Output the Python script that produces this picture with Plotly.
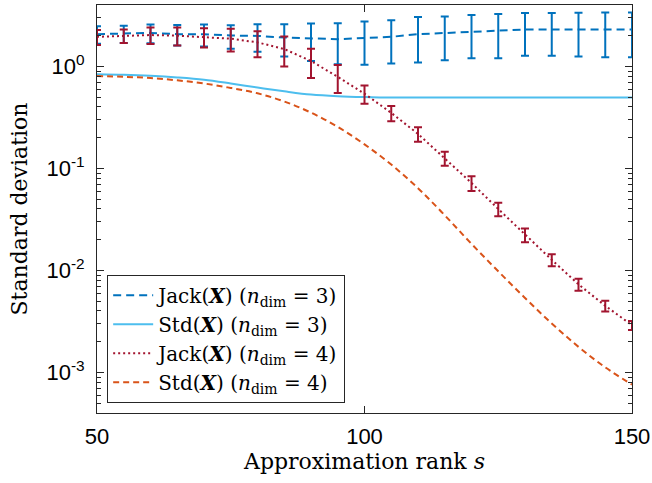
import plotly.graph_objects as go

# approximation rank
s_vals = [50, 55, 60, 65, 70, 75, 80, 85, 90, 95, 100,
          105, 110, 115, 120, 125, 130, 135, 140, 145, 150]

# Jack(X), n_dim = 3
jack3 = [2.07, 2.10, 2.13, 2.07, 2.07, 2.01, 1.99, 1.92, 1.88, 1.85, 1.90,
         1.95, 2.07, 2.12, 2.20, 2.23, 2.30, 2.30, 2.30, 2.30, 2.30]
jack3_err = [0.40, 0.40, 0.44, 0.47, 0.50, 0.52, 0.60, 0.67, 0.75, 0.80, 0.86,
             0.88, 0.98, 0.97, 1.00, 1.03, 1.03, 1.03, 1.05, 1.07, 1.07]

# Std(X), n_dim = 3
std3 = [0.84, 0.83, 0.81, 0.78, 0.74, 0.68, 0.62, 0.57, 0.53, 0.51, 0.50,
        0.495, 0.495, 0.495, 0.495, 0.495, 0.495, 0.495, 0.495, 0.495, 0.495]

# Jack(X), n_dim = 4
jack4 = [1.95, 2.00, 2.03, 2.00, 1.95, 1.87, 1.72, 1.48, 1.13, 0.79, 0.54,
         0.35, 0.218, 0.126, 0.072, 0.040, 0.0223, 0.0127, 0.0073, 0.0045, 0.0029]
jack4_err = [0.33, 0.30, 0.37, 0.40, 0.42, 0.47, 0.49, 0.48, 0.36, 0.24, 0.11,
             0.06, 0.035, 0.020, 0.012, 0.006, 0.0034, 0.0017, 0.0010, 0.00055, 0.0003]

# Std(X), n_dim = 4
std4 = [0.805, 0.79, 0.77, 0.73, 0.68, 0.615, 0.545, 0.453, 0.352, 0.255, 0.172,
        0.109, 0.064, 0.0347, 0.0182, 0.0098, 0.00537, 0.00302, 0.00178, 0.00112, 0.00076]

y_tickvals = [1e-3, 1e-2, 1e-1, 1e0]
y_ticktext = ["10<sup>-3</sup>", "10<sup>-2</sup>", "10<sup>-1</sup>", "10<sup>0</sup>"]
y_minor_tickvals = [k * 10.0 ** e for e in range(-4, 1) for k in range(2, 10)]
x_tickvals = [50, 100, 150]

names = [
    "Jack(<b><i>X</i></b>) (<i>n</i><sub>dim</sub> = 3)",
    "Std(<b><i>X</i></b>) (<i>n</i><sub>dim</sub> = 3)",
    "Jack(<b><i>X</i></b>) (<i>n</i><sub>dim</sub> = 4)",
    "Std(<b><i>X</i></b>) (<i>n</i><sub>dim</sub> = 4)",
]

c_blue = "#0072BD"
c_lblue = "#4DBEEE"
c_red = "#A2142F"
c_orange = "#D95319"

fig = go.Figure()
fig.add_trace(go.Scatter(
    x=s_vals, y=jack3, mode="lines", name=names[0],
    line=dict(color=c_blue, width=2, dash="8px,5px"),
    error_y=dict(type="data", array=jack3_err, symmetric=True,
                 color=c_blue, thickness=2, width=4)))
fig.add_trace(go.Scatter(
    x=s_vals, y=std3, mode="lines", name=names[1], line_shape="spline",
    line=dict(color=c_lblue, width=2)))
fig.add_trace(go.Scatter(
    x=s_vals, y=jack4, mode="lines", name=names[2],
    line=dict(color=c_red, width=2, dash="2px,3px"),
    error_y=dict(type="data", array=jack4_err, symmetric=True,
                 color=c_red, thickness=2, width=4)))
fig.add_trace(go.Scatter(
    x=s_vals, y=std4, mode="lines", name=names[3], line_shape="spline",
    line=dict(color=c_orange, width=2, dash="6px,4px")))

axis_color = "#262626"
serif = "DejaVu Serif"
sans = "Liberation Sans"
fig.update_layout(
    width=652, height=483,
    margin=dict(l=97, r=20, t=5, b=70, autoexpand=False),
    paper_bgcolor="white", plot_bgcolor="white",
    showlegend=True,
    legend=dict(
        x=0.019, y=0.025, xanchor="left", yanchor="bottom",
        bgcolor="white", bordercolor=axis_color, borderwidth=1,
        font=dict(family=serif, size=20, color="black"),
        tracegroupgap=0, itemwidth=40,
    ),
    xaxis=dict(
        range=[50, 150], tickvals=x_tickvals, automargin=False,
        ticks="inside", ticklen=7, tickcolor=axis_color,
        showline=True, linecolor=axis_color, linewidth=1, mirror="ticks",
        showgrid=False, zeroline=False, ticklabelstandoff=4,
        tickfont=dict(family=sans, size=22, color="black"),
        title=dict(text="Approximation rank <i>s</i>",
                   font=dict(family=serif, size=22, color="black"),
                   standoff=2),
    ),
    yaxis=dict(
        type="log", range=[-3.398, 0.602], automargin=False,
        tickvals=y_tickvals, ticktext=y_ticktext,
        ticks="inside", ticklen=7, tickcolor=axis_color,
        minor=dict(ticks="inside", ticklen=4, tickcolor=axis_color,
                   tickmode="array", tickvals=y_minor_tickvals, showgrid=False),
        showline=True, linecolor=axis_color, linewidth=1, mirror="ticks",
        showgrid=False, zeroline=False, ticklabelstandoff=7,
        tickfont=dict(family=sans, size=22, color="black"),
        title=dict(text="Standard deviation",
                   font=dict(family=serif, size=22, color="black"),
                   standoff=12),
    ),
)

fig.write_html("out.html",
               config={"displayModeBar": False},
               post_script="document.body.style.margin='0';document.body.style.padding='0';")
